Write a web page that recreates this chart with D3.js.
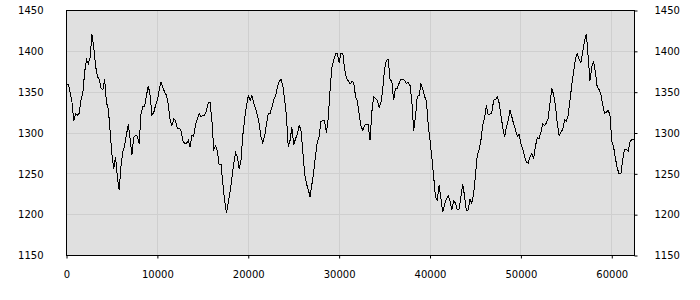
<!DOCTYPE html>
<html>
<head>
<meta charset="utf-8">
<script src="https://cdn.jsdelivr.net/npm/d3@7"></script>
<style>
  body { margin: 0; background: #fff; }
  text { font-family: "DejaVu Sans", Verdana, sans-serif; font-size: 10px; fill: #000; }
</style>
</head>
<body>
<div id="chart"></div>
<script>
// Sample spacing along the x axis (values read every 200 units)
const sampleStep = 200;

// Series values, one per sample
const values = [
  1360, 1360, 1350, 1338, 1315, 1324, 1322, 1324, 1341, 1349,
  1375, 1390, 1385, 1392, 1421, 1405, 1382, 1369, 1366, 1355,
  1353, 1366, 1337, 1330, 1302, 1274, 1256, 1271, 1245, 1230,
  1260, 1277, 1285, 1298, 1311, 1293, 1273, 1295, 1297, 1296,
  1287, 1323, 1332, 1333, 1346, 1358, 1346, 1322, 1325, 1334,
  1340, 1353, 1362, 1356, 1350, 1346, 1335, 1316, 1309, 1317,
  1315, 1306, 1306, 1303, 1291, 1287, 1287, 1291, 1283, 1297,
  1296, 1311, 1317, 1324, 1320, 1322, 1322, 1327, 1337, 1337,
  1315, 1280, 1284, 1278, 1261, 1262, 1239, 1217, 1202, 1215,
  1228, 1245, 1262, 1276, 1271, 1256, 1267, 1297, 1317, 1333,
  1346, 1340, 1346, 1337, 1330, 1322, 1311, 1295, 1288, 1296,
  1311, 1324, 1324, 1331, 1341, 1345, 1356, 1363, 1366, 1358,
  1341, 1321, 1283, 1291, 1307, 1285, 1293, 1298, 1310, 1303,
  1278, 1250, 1238, 1231, 1222, 1237, 1252, 1272, 1289, 1296,
  1314, 1315, 1315, 1300, 1318, 1352, 1380, 1389, 1397, 1397,
  1386, 1397, 1398, 1378, 1367, 1364, 1360, 1363, 1362, 1345,
  1339, 1323, 1309, 1303, 1309, 1311, 1310, 1291, 1326, 1344,
  1342, 1340, 1331, 1337, 1354, 1378, 1389, 1390, 1366, 1363,
  1340, 1355, 1355, 1361, 1366, 1366, 1364, 1361, 1362, 1358,
  1339, 1303, 1320, 1345, 1346, 1360, 1354, 1345, 1339, 1310,
  1291, 1270, 1247, 1221, 1218, 1236, 1220, 1203, 1212, 1219,
  1223, 1217, 1206, 1217, 1214, 1206, 1207, 1222, 1237, 1223,
  1205, 1206, 1219, 1214, 1225, 1248, 1273, 1280, 1291, 1310,
  1318, 1334, 1322, 1323, 1325, 1340, 1341, 1344, 1337, 1322,
  1307, 1295, 1307, 1315, 1328, 1320, 1311, 1304, 1296, 1298,
  1287, 1280, 1272, 1264, 1263, 1271, 1275, 1268, 1284, 1294,
  1293, 1301, 1311, 1309, 1312, 1318, 1336, 1355, 1347, 1334,
  1312, 1297, 1301, 1304, 1316, 1314, 1322, 1340, 1359, 1375,
  1391, 1397, 1390, 1386, 1399, 1413, 1421, 1394, 1364, 1381,
  1387, 1374, 1356, 1353, 1347, 1335, 1324, 1325, 1328, 1322,
  1290, 1283, 1269, 1257, 1250, 1250, 1267, 1280, 1280, 1278,
  1289, 1292, 1292
];

// Axis ticks
const xTicks = [0, 10000, 20000, 30000, 40000, 50000, 60000];
const yTicks = [1150, 1200, 1250, 1300, 1350, 1400, 1450];

const margin = {top: 10, right: 66, bottom: 45, left: 66},
  width = 700 - margin.left - margin.right,
  height = 300 - margin.top - margin.bottom;

const data = values.map((v, i) => ({x: i * sampleStep, y: v}));

const x = d3.scaleLinear().domain([0, 62500]).range([0, width]);
const y = d3.scaleLinear().domain([1150, 1450]).range([height, 0]);

const svg = d3.select('#chart')
  .append('svg')
  .attr('width', 700)
  .attr('height', 300)
  .append('g')
  .attr('transform', `translate(${margin.left + 0.5},${margin.top + 0.5})`);

// Plot background
svg.append('rect')
  .attr('width', width)
  .attr('height', height)
  .attr('fill', '#e0e0e0');

// Grid lines
svg.append('g')
  .selectAll('line.vgrid')
  .data(xTicks.slice(1))
  .enter().append('line')
  .attr('x1', d => Math.round(x(d))).attr('x2', d => Math.round(x(d)))
  .attr('y1', 0).attr('y2', height)
  .attr('stroke', '#cfcfcf');

svg.append('g')
  .selectAll('line.hgrid')
  .data(yTicks.slice(1, -1))
  .enter().append('line')
  .attr('x1', 0).attr('x2', width)
  .attr('y1', d => Math.round(y(d))).attr('y2', d => Math.round(y(d)))
  .attr('stroke', '#cfcfcf');

const fmt = d3.format('d');

// Bottom axis
const xAxis = svg.append('g')
  .attr('transform', `translate(0,${height})`)
  .call(d3.axisBottom(x).tickValues(xTicks).tickFormat(fmt)
    .tickSizeInner(3).tickSizeOuter(0).tickPadding(12));
xAxis.select('.domain').remove();

// Left labels (no tick marks)
const yLeft = svg.append('g')
  .call(d3.axisLeft(y).tickValues(yTicks).tickFormat(fmt).tickSize(0).tickPadding(23));
yLeft.select('.domain').remove();

// Right axis
const yRight = svg.append('g')
  .attr('transform', `translate(${width},0)`)
  .call(d3.axisRight(y).tickValues(yTicks).tickFormat(fmt)
    .tickSizeInner(3).tickSizeOuter(0).tickPadding(17));
yRight.select('.domain').remove();

svg.selectAll('.tick text').attr('fill', '#000').style('font-size', '10px')
  .style('font-family', '"DejaVu Sans", Verdana, sans-serif');
svg.selectAll('.tick line').attr('stroke', '#000');

// The series line
svg.append('path')
  .datum(data)
  .attr('fill', 'none')
  .attr('stroke', '#000')
  .attr('stroke-width', 1)
  .attr('shape-rendering', 'crispEdges')
  .attr('d', d3.line().x(d => x(d.x)).y(d => y(d.y)));

// Plot frame
svg.append('rect')
  .attr('width', width)
  .attr('height', height)
  .attr('fill', 'none')
  .attr('stroke', '#000');
</script>
</body>
</html>
